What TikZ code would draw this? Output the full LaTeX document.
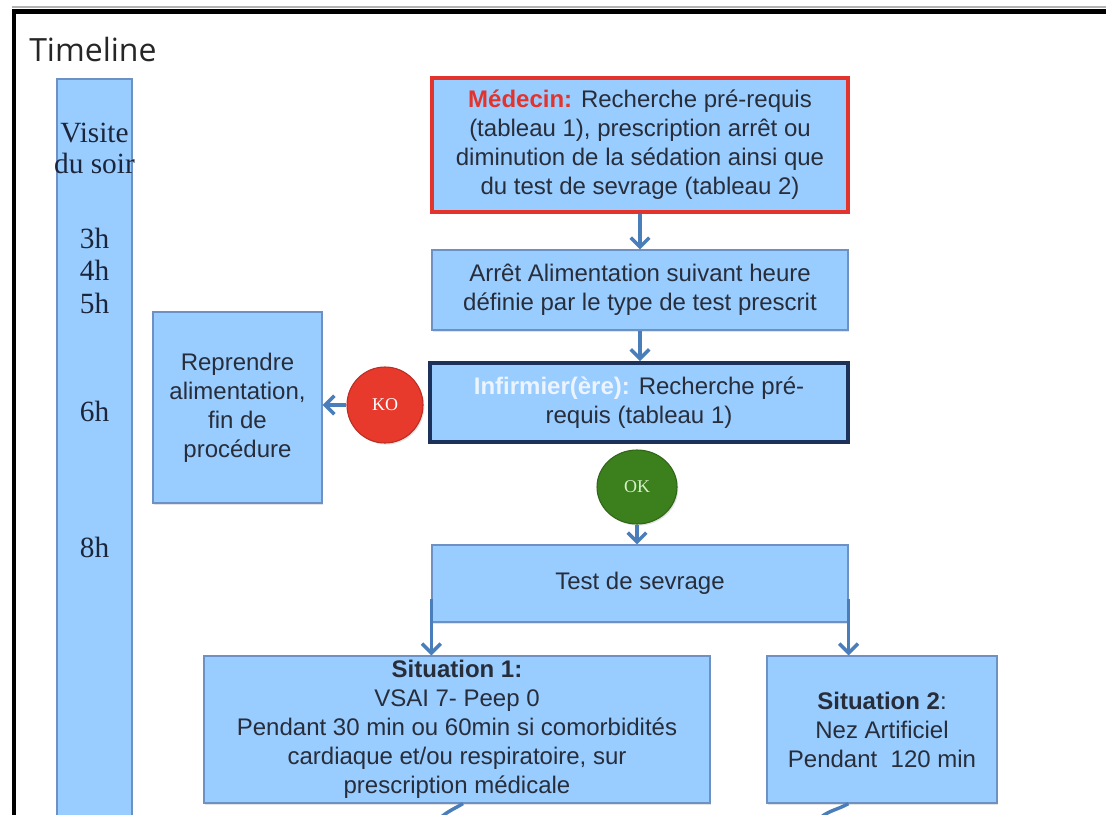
\documentclass[tikz,border=0pt]{standalone}
\usepackage{fontspec}
\setmainfont{Liberation Sans}
\newfontfamily\serifface{Liberation Serif}
\newfontfamily\titleface{Open Sans}
\usetikzlibrary{arrows.meta,shapes.geometric,shadows}

\definecolor{boxfill}{RGB}{153,204,255}
\definecolor{boxedge}{RGB}{110,145,195}
\definecolor{ink}{RGB}{40,45,58}
\definecolor{flow}{RGB}{74,126,187}
\definecolor{medred}{RGB}{226,52,45}
\definecolor{navy}{RGB}{28,50,90}
\definecolor{nurselight}{RGB}{236,244,255}
\definecolor{kored}{RGB}{232,58,44}
\definecolor{okgreen}{RGB}{60,128,30}
\definecolor{oktext}{RGB}{215,240,200}
\definecolor{hourink}{RGB}{28,38,58}

\tikzset{
  softshadow/.style={drop shadow={opacity=0.22,shadow xshift=1pt,shadow yshift=-1.2pt}},
  stepbox/.style={draw=boxedge, line width=0.9pt, fill=boxfill, text=ink,
    align=center, inner sep=2pt, softshadow,
    font=\fontsize{18}{21.75}\selectfont},
  timebar/.style={draw=boxedge, line width=1pt, fill=boxfill, inner sep=0pt},
  hour/.style={font=\serifface\fontsize{22}{24}\selectfont, text=hourink, inner sep=0pt},
  verdict/.style={inner sep=0pt, softshadow, font=\serifface\fontsize{13.5}{15}\selectfont},
  flowarrow/.style={draw=flow, line width=2.6pt, -{Straight Barb[length=7pt,width=14pt]}},
  flowline/.style={draw=flow, line width=2.6pt},
}

\begin{document}
\begin{tikzpicture}[x=0.75pt,y=-0.75pt]
\useasboundingbox (0,0) rectangle (1106,814);
\fill[white] (0,0) rectangle (1106,814);

% window frame
\draw[black!30, line width=1.5pt] (12,7) -- (1110,7);
\draw[black, line width=3.5pt, line join=miter] (14,830) -- (14,11.5) -- (1110,11.5);

\node[anchor=base west, font=\titleface\fontsize{24}{28}\selectfont, text=black!85, inner sep=0pt]
  (title) at (29,61) {Timeline};

% timeline bar and its hours
\node[timebar, minimum width=56.25pt, minimum height=564pt] (tl) at (94.5,455) {};
\node[hour] (hv) at (94.5,133) {Visite};
\node[hour] (hs) at (94.5,163) {du soir};
\node[hour] (h3) at (94.5,238) {3h};
\node[hour] (h4) at (94.5,270) {4h};
\node[hour] (h5) at (94.5,303) {5h};
\node[hour] (h6) at (94.5,411) {6h};
\node[hour] (h8) at (94.5,547) {8h};

% flow boxes
\node[stepbox, draw=medred, line width=3pt, minimum width=312pt, minimum height=100.5pt]
  (med) at (640,145)
  {\textcolor{medred}{\textbf{Médecin:}} Recherche pré-requis\\(tableau 1), prescription arrêt ou\\diminution de la sédation ainsi que\\du test de sevrage (tableau 2)};

\node[stepbox, minimum width=312pt, minimum height=60pt] (arret) at (640,290)
  {Arrêt Alimentation suivant heure\\définie par le type de test prescrit};

\node[stepbox, draw=navy, line width=2.8pt, minimum width=313.5pt, minimum height=59.25pt]
  (inf) at (639,402.5)
  {\textcolor{nurselight}{\textbf{Infirmier(ère):}} Recherche pré-\\requis (tableau 1)};

\node[stepbox, minimum width=126.75pt, minimum height=143.25pt] (rep) at (237.5,407.5)
  {Reprendre\\alimentation,\\fin de\\procédure};

\node[verdict, circle, fill=kored, draw=kored!80!black, line width=0.8pt, minimum size=57pt, text=white]
  (ko) at (385,405) {KO};

\node[verdict, ellipse, fill=okgreen, draw=okgreen!80!black, line width=0.8pt,
  minimum width=60pt, minimum height=55.5pt, text=oktext]
  (ok) at (637,487) {OK};

\node[stepbox, minimum width=312pt, minimum height=57.75pt] (test) at (640,583.5)
  {Test de sevrage};

\node[stepbox, minimum width=379.5pt, minimum height=110.25pt] (sit1) at (457,729.5)
  {\textbf{Situation 1:}\\VSAI 7- Peep 0\\Pendant 30 min ou 60min si comorbidités\\cardiaque et/ou respiratoire, sur\\prescription médicale};

\node[stepbox, minimum width=172.5pt, minimum height=110.25pt] (sit2) at (882,729.5)
  {\textbf{Situation 2}:\\Nez Artificiel\\Pendant \ 120 min};

% connectors
\draw[flowarrow] (med.south) -- (med.south |- arret.north);
\draw[flowarrow] (arret.south) -- (arret.south |- inf.north);
\draw[flowarrow] (ko.west) -- (ko.west -| rep.east);
\draw[flowarrow] (ok.south) -- (ok.south |- test.north);
\draw[flowarrow] ([yshift=18pt]test.south west) -- (test.south west |- sit1.north);
\draw[flowarrow] ([yshift=18pt]test.south east) -- (test.south east |- sit2.north);

% connectors leaving the lower edge
\coordinate (tail1) at (440,818);
\coordinate (tail2) at (820,818);
\draw[flowline] ([xshift=4.5pt]sit1.south) to[out=-150,in=40] (tail1);
\draw[flowline] ([xshift=61.5pt]sit2.south west) to[out=-150,in=40] (tail2);
\end{tikzpicture}
\end{document}
